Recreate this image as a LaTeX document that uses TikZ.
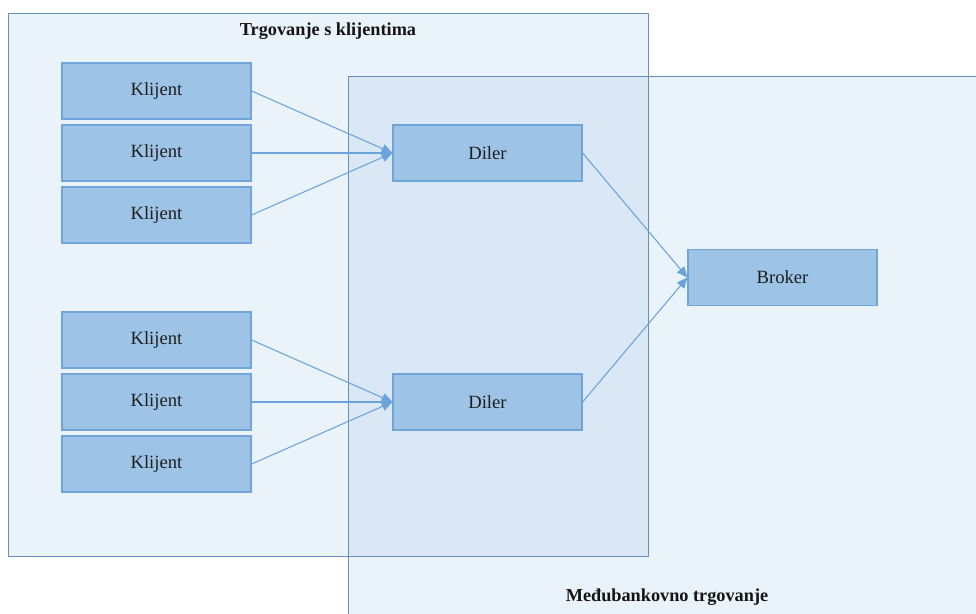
\documentclass[tikz,border=0pt]{standalone}
\usepackage{fontspec}
\setmainfont{Liberation Serif}
\usetikzlibrary{arrows.meta}
\definecolor{accent}{HTML}{5B9BD5}
\definecolor{groupline}{HTML}{6A8FBA}
\definecolor{nodefill}{HTML}{9DC3E6}
\definecolor{nodeline}{HTML}{70A5DA}
\definecolor{arrowcol}{HTML}{6BA3DC}
\tikzset{
  box/.style={draw=nodeline, line width=0.9pt, fill=nodefill, minimum width=141.75pt, minimum height=42pt, inner sep=0pt, font=\fontsize{14}{16}\selectfont, text=black!88},
  link/.style={draw=arrowcol, line width=0.8pt, -{Triangle[length=8pt,width=7pt]}},
  grouptitle/.style={font=\bfseries\fontsize{13.7}{16}\selectfont, text=black!92},
}
\begin{document}
\begin{tikzpicture}[x=0.75pt,y=-0.75pt]
\useasboundingbox (0,0) rectangle (976,614);
% group backgrounds
\fill[accent, fill opacity=0.12] (8,13) rectangle (648,556);
\fill[accent, fill opacity=0.12] (348,76) rectangle (976,614);
\draw[groupline, line width=0.75pt] (8,13) rectangle (648,556);
\draw[groupline, line width=0.75pt] (976,76) -- (348,76) -- (348,614);
\node[grouptitle] (t1) at (328,31) {Trgovanje s klijentima};
\node[grouptitle] (t2) at (667,597) {Međubankovno trgovanje};
% clients
\node[box] (k1) at (156.5,91) {Klijent};
\node[box] (k2) at (156.5,153) {Klijent};
\node[box] (k3) at (156.5,215) {Klijent};
\node[box] (k4) at (156.5,340) {Klijent};
\node[box] (k5) at (156.5,402) {Klijent};
\node[box] (k6) at (156.5,464) {Klijent};
% dealers
\node[box] (d1) at (487.5,153) {Diler};
\node[box] (d2) at (487.5,402) {Diler};
% broker
\node[box] (b) at (782.5,277.5) {Broker};
% links
\draw[link] (k1.east) -- (d1.west);
\draw[link] (k2.east) -- (d1.west);
\draw[link] (k3.east) -- (d1.west);
\draw[link] (k4.east) -- (d2.west);
\draw[link] (k5.east) -- (d2.west);
\draw[link] (k6.east) -- (d2.west);
\draw[link] (d1.east) -- (b.west);
\draw[link] (d2.east) -- (b.west);
\end{tikzpicture}
\end{document}
